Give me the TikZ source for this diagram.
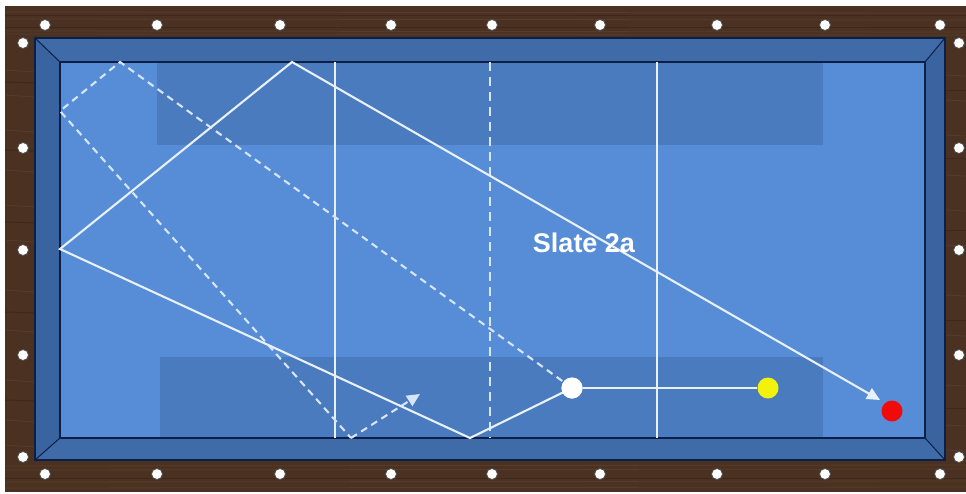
\documentclass[tikz,border=0pt]{standalone}
\usepackage{fontspec}
\setmainfont{Liberation Sans}
\usetikzlibrary{arrows.meta,calc}
\definecolor{wood}{HTML}{4A3121}
\definecolor{woodlight}{HTML}{5C4230}
\definecolor{wooddark}{HTML}{3A2517}
\definecolor{rail}{HTML}{3F6CA9}
\definecolor{railside}{HTML}{3A64A0}
\definecolor{navy}{HTML}{0B1F47}
\definecolor{cloth}{HTML}{568DD6}
\definecolor{zone}{HTML}{4A7BBF}
\definecolor{shot}{HTML}{E8F0FA}
\definecolor{dashshot}{HTML}{D6E5F8}
\definecolor{ballyellow}{HTML}{F2F20A}
\definecolor{ballred}{HTML}{F00A0A}
\tikzset{
  diamondpt/.style={circle, fill=white, draw=black!70, line width=0.8pt, minimum size=11pt, inner sep=0pt},
  ball/.style={circle, minimum size=21pt, inner sep=0pt},
  shotline/.style={draw=shot, line width=2.1pt, line join=miter},
  dashline/.style={draw=dashshot, line width=2.1pt, dash pattern=on 7pt off 5pt},
  guide/.style={draw=shot, line width=1.8pt},
  guidedash/.style={draw=dashshot, line width=1.8pt, dash pattern=on 9pt off 6pt},
  tip/.style={-{Triangle[length=13pt,width=12pt]}},
  grain/.style={draw=woodlight, line width=0.8pt, opacity=0.7},
  grainb/.style={draw=wooddark, line width=1pt, opacity=0.7}
}
\begin{document}
\begin{tikzpicture}[x=1pt,y=-1pt]
\useasboundingbox (0,0) rectangle (966,493);
\fill[white] (0,0) rectangle (966,493);
% wood frame
\fill[wood] (5,6) rectangle (966,492);
\foreach \yy in {12,19,31,34} {\draw[grain] (5,\yy) -- (966,\yy+1);}
\foreach \yy in {15,27} {\draw[grainb] (5,\yy) -- (966,\yy);}
\foreach \yy in {466,470,482,488} {\draw[grain] (5,\yy) -- (966,\yy-1);}
\foreach \yy in {478} {\draw[grainb] (5,\yy) -- (966,\yy);}
\foreach \yy in {70,95,130,170,205,240,290,330,380,420,445} {
  \draw[grain] (5,\yy) -- (35,\yy+2);
  \draw[grain] (945,\yy+5) -- (966,\yy+6);
}
\foreach \yy in {82,150,222,312,400} {
  \draw[grainb] (5,\yy) -- (35,\yy+1);
  \draw[grainb] (945,\yy+8) -- (966,\yy+8);
}
% rails
\fill[rail] (35,38) rectangle (945,460);
\fill[railside] (35,38) -- (60,62) -- (60,438) -- (35,460) -- cycle;
\fill[railside] (945,38) -- (925,62) -- (925,438) -- (945,460) -- cycle;
\draw[navy, line width=1.5pt] (35,38) rectangle (945,460);
\draw[navy, line width=1pt] (35,38) -- (60,62) (945,38) -- (925,62) (35,460) -- (60,438) (945,460) -- (925,438);
% cloth
\fill[cloth] (60,62) rectangle (925,438);
\fill[zone] (157,62) rectangle (823,145);
\fill[zone] (160,357) rectangle (823,438);
\draw[navy, line width=2.5pt] (60,62) rectangle (925,438);
% guide lines
\coordinate (g1t) at (335,62); \coordinate (g1b) at (335,438);
\coordinate (g2t) at (490,62); \coordinate (g2b) at (490,438);
\coordinate (g3t) at (657,62); \coordinate (g3b) at (657,438);
\draw[guide] (g1t) -- (g1b);
\draw[guidedash] (g2t) -- (g2b);
\draw[guide] (g3t) -- (g3b);
% diamonds
\foreach \xx [count=\i] in {45,157,280,391,492,600,717,825,940} {
  \node[diamondpt] (dt\i) at (\xx,25) {};
  \node[diamondpt] (db\i) at (\xx,474) {};
}
\foreach \yy [count=\i] in {43,148,250,355,457} {
  \node[diamondpt] (dl\i) at (23,\yy) {};
  \node[diamondpt] (dr\i) at (959,\yy) {};
}
% path points
\coordinate (b1) at (470,438);
\coordinate (b2) at (60,249);
\coordinate (b3) at (292,62);
\coordinate (e1) at (880,400);
\coordinate (c1) at (120,62);
\coordinate (c2) at (60,111);
\coordinate (c3) at (351,438);
\coordinate (e2) at (420,394);
% balls
\node[ball, fill=white] (wb) at (572,388) {};
\node[ball, fill=ballyellow] (yb) at (768,388) {};
\node[ball, fill=ballred] (rb) at (892,411) {};
% dashed path
\draw[dashline] (wb.center) -- (c1) -- (c2) -- (c3);
\draw[dashline, tip] (c3) -- (e2);
% solid path
\draw[shotline, tip] (wb.center) -- (b1) -- (b2) -- (b3) -- (e1);
\draw[shotline] (wb) -- (yb);
\node[ball, fill=white] at (wb) {};
\node[text=white, font=\bfseries\fontsize{27}{29}\selectfont] (lbl) at (584,243) {Slate 2a};
\end{tikzpicture}
\end{document}
